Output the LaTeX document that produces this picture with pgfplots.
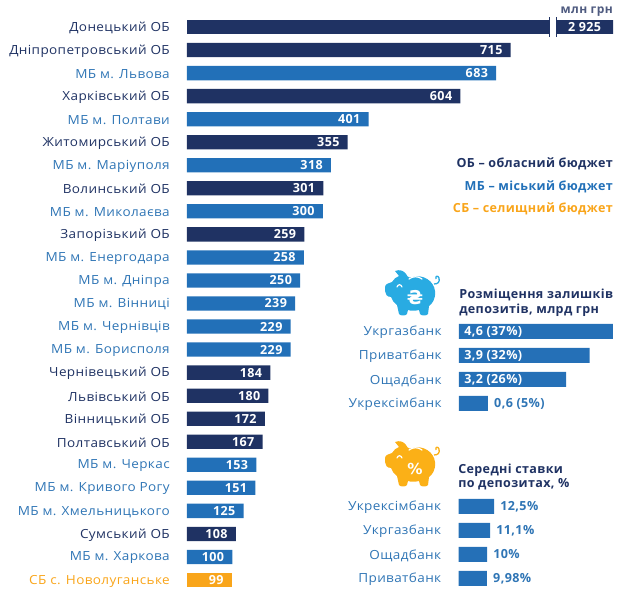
\documentclass[border=0pt]{standalone}
\usepackage{fontspec}
\setmainfont{Open Sans}[LetterSpace=3,FakeStretch=1.08,BoldFeatures={FakeStretch=1.0}]
\newfontfamily\symfont{DejaVu Sans}[Scale=0.95]
\usepackage{pgfplots}
\pgfplotsset{compat=1.18}
\usetikzlibrary{calc}

\definecolor{obl}{HTML}{1F3263}
\definecolor{mis}{HTML}{2270B8}
\definecolor{sel}{HTML}{F9A51A}
\definecolor{txtb}{HTML}{2F75B5}
\definecolor{bank}{HTML}{2570B7}
\definecolor{pigb}{HTML}{29ABE2}
\definecolor{pigo}{HTML}{FBB017}
\definecolor{greyb}{HTML}{4F5B80}

% one reference pixel
\newlength\px
\setlength\px{0.75pt}
\newcommand{\rowfont}{\fontsize{9.4pt}{11pt}\selectfont}
\newcommand{\lblfont}{\fontsize{9.4pt}{11pt}\selectfont\bfseries}

\pgfplotsset{
  panel/.style={
    scale only axis,
    anchor=north west,
    axis y line*=left,
    axis x line=none,
    y axis line style={draw=none},
    y dir=reverse,
    xmin=0,
    ytick=data,
    major tick length=0pt,
    xbar,
    bar shift=0pt,
    /pgf/number format/assume math mode=true,
    clip=true,
  },
}

% piggy bank icon, origin at the top left of a 56x48 px box
\newcommand{\piggy}[5]{%
  \begin{scope}[shift={(#1\px,#2\px)},x=\px,y=-\px]
    \fill[#3] (21,5) .. controls (23,9) and (25,9) .. (28,8)
      .. controls (38,5) and (49,12) .. (50,22)
      .. controls (51,30) and (47,35) .. (44,37)
      -- (43,45) .. controls (42,47) and (36,47) .. (35,45) -- (34,41)
      .. controls (30,42) and (26,42) .. (23,41) -- (22,45)
      .. controls (21,47) and (15,47) .. (14,45)
      -- (12,36) .. controls (9,34) and (7,31) .. (6,28)
      .. controls (2,28) and (0,25) .. (0,22)
      -- (0,18) .. controls (0,15) and (4,14) .. (7,13)
      .. controls (9,10) and (11,8) .. (14,7)
      -- (10,2) .. controls (15,0) and (19,2) .. (21,5) -- cycle;
    \draw[#3,line width=1.3\px] (49,15) .. controls (53,15) and (55,13) .. (54,9)
      .. controls (53,6) and (50,7) .. (51,10);
    \draw[white,line width=1.2\px,line cap=round] (24,10) .. controls (28,7) and (33,7) .. (37,10);
    \draw[white,line width=1.2\px,line cap=round] (12,18) .. controls (13,15) and (16,15) .. (17,18);
    \node[text=white,font={\symfont\fontsize{#5}{14pt}\selectfont\bfseries},inner sep=0pt] at (30,29) {#4};
  \end{scope}%
}

\begin{document}
\begin{tikzpicture}[x=\px,y=\px]
\path[use as bounding box] (0,0) rectangle (619,589);

% main panel: y pixel 15.5 at the top, rows 23.04 px apart
\begin{axis}[panel,
  at={(187\px,573.5\px)},
  width=426\px, height=571.4\px,
  xmax=941, ymin=-0.5, ymax=24.3,
  bar width=14.3\px,
  ytick={0,...,24},
  yticklabel style={inner sep=0pt,xshift=-17\px,yshift=-1\px,anchor=east,font=\rowfont},
  yticklabels={
    \textcolor{obl}{Донецький ОБ},
    \textcolor{obl}{Дніпропетровський ОБ},
    \textcolor{txtb}{МБ м. Львова},
    \textcolor{obl}{Харківський ОБ},
    \textcolor{txtb}{МБ м. Полтави},
    \textcolor{obl}{Житомирський ОБ},
    \textcolor{txtb}{МБ м. Маріуполя},
    \textcolor{obl}{Волинський ОБ},
    \textcolor{txtb}{МБ м. Миколаєва},
    \textcolor{obl}{Запорізький ОБ},
    \textcolor{txtb}{МБ м. Енергодара},
    \textcolor{txtb}{МБ м. Дніпра},
    \textcolor{txtb}{МБ м. Вінниці},
    \textcolor{txtb}{МБ м. Чернівців},
    \textcolor{txtb}{МБ м. Борисполя},
    \textcolor{obl}{Чернівецький ОБ},
    \textcolor{obl}{Львівський ОБ},
    \textcolor{obl}{Вінницький ОБ},
    \textcolor{obl}{Полтавський ОБ},
    \textcolor{txtb}{МБ м. Черкас},
    \textcolor{txtb}{МБ м. Кривого Рогу},
    \textcolor{txtb}{МБ м. Хмельницького},
    \textcolor{obl}{Сумський ОБ},
    \textcolor{txtb}{МБ м. Харкова},
    \textcolor{sel}{СБ с. Новолуганське}},
  every node near coord/.style={anchor=east,text=white,font=\lblfont,inner sep=0pt,xshift=-8\px},
]
% 2925 runs past the axis and is cut at xmax, the break is drawn below
\addplot[fill=obl,draw=none] coordinates {(2925,0)};
\addplot[fill=obl,draw=none,nodes near coords] coordinates {
  (715,1) (604,3) (355,5) (301,7) (259,9) (184,15) (180,16) (172,17) (167,18) (108,22)};
\addplot[fill=mis,draw=none,nodes near coords] coordinates {
  (683,2) (401,4) (318,6) (300,8) (258,10) (250,11) (239,12) (229,13) (229,14)
  (153,19) (151,20) (125,21) (100,23)};
\addplot[fill=sel,draw=none,nodes near coords] coordinates {(99,24)};
\end{axis}

% break in the first bar
\fill[white] (550,552) rectangle (556,572);
\draw[obl,line width=1\px] (549.7,552) -- (549.7,572);
\draw[obl,line width=1\px] (556.3,552) -- (556.3,572);
\node[anchor=center,text=white,font=\lblfont,inner sep=0pt] at (584.5,562) {2 925};
\node[anchor=east,text=greyb,font=\fontsize{9pt}{10pt}\selectfont\bfseries,inner sep=0pt] at (613,577) {млн грн};

% budget key
\node[anchor=east,text=obl,font=\lblfont,inner sep=0pt] at (613,425) {ОБ – обласний бюджет};
\node[anchor=east,text=mis,font=\lblfont,inner sep=0pt] at (613,402) {МБ – міський бюджет};
\node[anchor=east,text=sel,font=\lblfont,inner sep=0pt] at (613,380) {СБ – селищний бюджет};

% deposits panel. The 0,6 bar is drawn longer in the reference than its value
\piggy{385}{320}{pigb}{₴}{15pt}
\node[anchor=west,text=obl,font=\lblfont,inner sep=0pt] at (459,294) {Розміщення залишків};
\node[anchor=west,text=obl,font=\lblfont,inner sep=0pt] at (459,279) {депозитів, млрд грн};
\begin{axis}[panel,
  at={(459\px,269.5\px)},
  width=154\px, height=96\px,
  xmax=4.6, ymin=-0.5, ymax=3.5,
  bar width=15\px,
  ytick={0,1,2,3},
  yticklabel style={inner sep=0pt,xshift=-17\px,yshift=-1\px,anchor=east,font=\rowfont,text=txtb},
  yticklabels={Укргазбанк,Приватбанк,Ощадбанк,Укрексімбанк},
]
\addplot[fill=bank,draw=none] coordinates {(4.6,0) (3.9,1) (3.2,2) (0.865,3)};
\addplot[draw=none,fill=none,point meta=explicit symbolic,nodes near coords,
  every node near coord/.style={anchor=west,text=white,font=\lblfont,inner sep=0pt,xshift=5\px}]
  coordinates {(0,0) [{4,6 (37\%)}] (0,1) [{3,9 (32\%)}] (0,2) [{3,2 (26\%)}]};
\addplot[draw=none,fill=none,point meta=explicit symbolic,nodes near coords,
  every node near coord/.style={anchor=west,text=txtb,font=\lblfont,inner sep=0pt,xshift=6\px}]
  coordinates {(0.865,3) [{0,6 (5\%)}]};
\end{axis}

% rates panel
\piggy{385}{149}{pigo}{\%}{12pt}
\node[anchor=west,text=obl,font=\lblfont,inner sep=0pt] at (458,119) {Середні ставки};
\node[anchor=west,text=obl,font=\lblfont,inner sep=0pt] at (458,105) {по депозитах, \%};
\begin{axis}[panel,
  at={(458.5\px,94.5\px)},
  width=154\px, height=96\px,
  xmax=54, ymin=-0.5, ymax=3.5,
  bar width=15\px,
  ytick={0,1,2,3},
  yticklabel style={inner sep=0pt,xshift=-17\px,yshift=-1\px,anchor=east,font=\rowfont,text=txtb},
  yticklabels={Укрексімбанк,Укргазбанк,Ощадбанк,Приватбанк},
  point meta=explicit symbolic,
  every node near coord/.style={anchor=west,text=txtb,font=\lblfont,inner sep=0pt,xshift=6\px},
]
\addplot[fill=bank,draw=none,nodes near coords] coordinates {
  (12.5,0) [{12,5\%}] (11.1,1) [{11,1\%}] (10,2) [{10\%}] (9.98,3) [{9,98\%}]};
\end{axis}
\end{tikzpicture}
\end{document}
